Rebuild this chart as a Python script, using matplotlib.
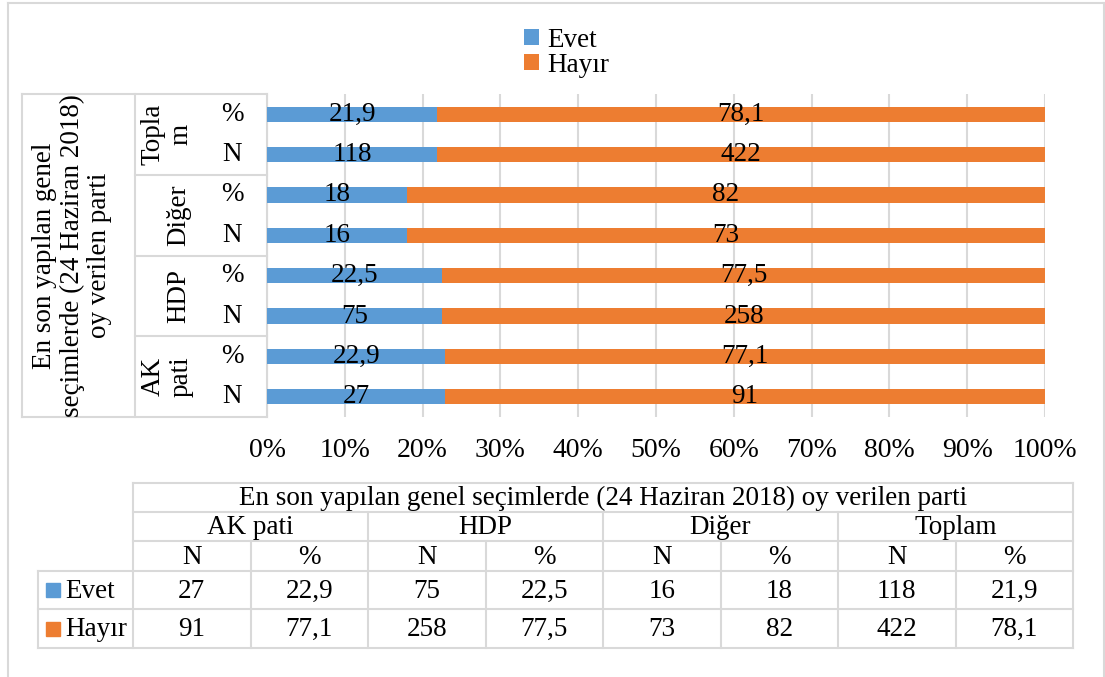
import matplotlib.pyplot as plt
from matplotlib.lines import Line2D
from matplotlib.patches import Rectangle

plt.rcParams['font.family'] = ['Liberation Serif', 'DejaVu Serif']
plt.rcParams['font.size'] = 19.5

# data
groups = ['AK pati', 'HDP', 'Diğer', 'Toplam']
group_axis_labels = ['AK\npati', 'HDP', 'Diğer', 'Topla\nm']
evet_n = [27, 75, 16, 118]
hayir_n = [91, 258, 73, 422]
evet_pct = [22.9, 22.5, 18, 21.9]
hayir_pct = [77.1, 77.5, 82, 78.1]
series = ['Evet', 'Hayır']
outer_label = 'En son yapılan genel\nseçimlerde (24 Haziran 2018)\noy verilen parti'
table_title = 'En son yapılan genel seçimlerde (24 Haziran 2018) oy verilen parti'
x_ticks = [0, 10, 20, 30, 40, 50, 60, 70, 80, 90, 100]

BLUE = '#5B9BD5'
ORANGE = '#ED7D31'
GRID = '#D9D9D9'
FS = 19.5


def fmt(v):
    if float(v).is_integer():
        return str(int(v))
    return ('%.1f' % v).replace('.', ',')


# rows from bottom to top: N then % for each group
row_evet, row_hayir, row_kind = [], [], []
for i in range(len(groups)):
    row_evet += [evet_n[i], evet_pct[i]]
    row_hayir += [hayir_n[i], hayir_pct[i]]
    row_kind += ['N', '%']

W, H = 1105, 677
fig = plt.figure(figsize=(W / 100, H / 100), dpi=100)

# overlay axes in pixel coordinates for the label boxes and data table
ov = fig.add_axes([0, 0, 1, 1], zorder=0)
ov.set_xlim(0, W)
ov.set_ylim(H, 0)
ov.axis('off')

# plot area in pixels
px0, px1, py0, py1 = 267, 1045, 94, 417
ax = fig.add_axes([px0 / W, 1 - py1 / H, (px1 - px0) / W, (py1 - py0) / H], zorder=2)
ax.set_facecolor('none')

y = list(range(len(row_kind)))
tot = [e + h for e, h in zip(row_evet, row_hayir)]
ev_w = [e / t * 100 for e, t in zip(row_evet, tot)]
ha_w = [h / t * 100 for h, t in zip(row_hayir, tot)]
b1 = ax.barh(y, ev_w, height=0.38, color=BLUE, label=series[0], zorder=3)
b2 = ax.barh(y, ha_w, left=ev_w, height=0.38, color=ORANGE, label=series[1], zorder=3)
ax.bar_label(b1, labels=[fmt(v) for v in row_evet], label_type='center', fontsize=FS)
ax.bar_label(b2, labels=[fmt(v) for v in row_hayir], label_type='center', fontsize=FS)

ax.set_xlim(0, 100)
ax.set_ylim(-0.5, len(y) - 0.5)
ax.set_xticks(x_ticks)
ax.set_xticklabels(['%d%%' % t for t in x_ticks], fontsize=20)
ax.set_yticks([])
ax.tick_params(axis='x', length=0, pad=15)
ax.grid(axis='x', color=GRID, lw=1.5, zorder=0)
for s in ax.spines.values():
    s.set_visible(False)

fig.legend(handles=[b1, b2], labels=series, loc='upper center',
           bbox_to_anchor=(0.513, 1 - 14 / H), frameon=False, handlelength=0.55,
           handleheight=0.55, handletextpad=0.3, labelspacing=0.0, borderpad=0,
           fontsize=FS)


def hline(x0, x1, yy):
    ov.add_line(Line2D([x0, x1], [yy, yy], color=GRID, lw=1.5))


def vline(xx, y0, y1):
    ov.add_line(Line2D([xx, xx], [y0, y1], color=GRID, lw=1.5))


# outer chart border
hline(8, 1104, 3)
vline(8, 3, H)
vline(1104, 3, H)

# left category label boxes
lx0, lx1 = 22, 135
vline(lx0, py0, py1)
vline(lx1, py0, py1)
vline(px0, py0, py1)
hline(lx0, px0, py0)
hline(lx0, px0, py1)
row_h = (py1 - py0) / len(row_kind)
ng = len(groups)
for g in range(1, ng):
    hline(lx1, px0, py1 - g * 2 * row_h)
ov.text(72, (py0 + py1) / 2, outer_label, rotation=90, ha='center', va='center',
        multialignment='center', linespacing=1.12)
for g, lab in enumerate(group_axis_labels):
    cy = py1 - (g * 2 + 1) * row_h
    cx = 167 if '\n' in lab else 179
    ov.text(cx, cy, lab, rotation=90, ha='center', va='center',
            multialignment='center', linespacing=1.15)
for r, k in enumerate(row_kind):
    ov.text(232, py1 - (r + 0.5) * row_h, k, ha='center', va='center')

# data table below
tx0, tx1 = 133, 1073
col_w = (tx1 - tx0) / (2 * ng)
rows_y = [483, 512, 541, 571, 609, 648]
leg_x0 = 38
hline(tx0, tx1, rows_y[0])
hline(tx0, tx1, rows_y[1])
hline(tx0, tx1, rows_y[2])
for yy in rows_y[3:]:
    hline(leg_x0, tx1, yy)
vline(leg_x0, rows_y[3], rows_y[5])
vline(tx0, rows_y[0], rows_y[5])
vline(tx1, rows_y[0], rows_y[5])
for c in range(1, 2 * ng):
    top = rows_y[1] if c % 2 == 0 else rows_y[2]
    vline(tx0 + c * col_w, top, rows_y[5])

ov.text((tx0 + tx1) / 2, (rows_y[0] + rows_y[1]) / 2 + 1, table_title, ha='center', va='center')
for g, name in enumerate(groups):
    ov.text(tx0 + (2 * g + 1) * col_w, (rows_y[1] + rows_y[2]) / 2 + 1, name,
            ha='center', va='center')
    for j, k in enumerate(['N', '%']):
        ov.text(tx0 + (2 * g + j + 0.5) * col_w, (rows_y[2] + rows_y[3]) / 2 + 1, k,
                ha='center', va='center')
table_rows = [
    [v for i in range(ng) for v in (evet_n[i], evet_pct[i])],
    [v for i in range(ng) for v in (hayir_n[i], hayir_pct[i])],
]
for r, (vals, name, col) in enumerate(zip(table_rows, series, [BLUE, ORANGE])):
    cy = (rows_y[3 + r] + rows_y[4 + r]) / 2
    for c, v in enumerate(vals):
        ov.text(tx0 + (c + 0.5) * col_w, cy + 1, fmt(v), ha='center', va='center')
    ov.add_patch(Rectangle((46, cy - 7), 14, 14, color=col))
    ov.text(65, cy + 1, name, ha='left', va='center')

fig.savefig('out.png', dpi=100)
